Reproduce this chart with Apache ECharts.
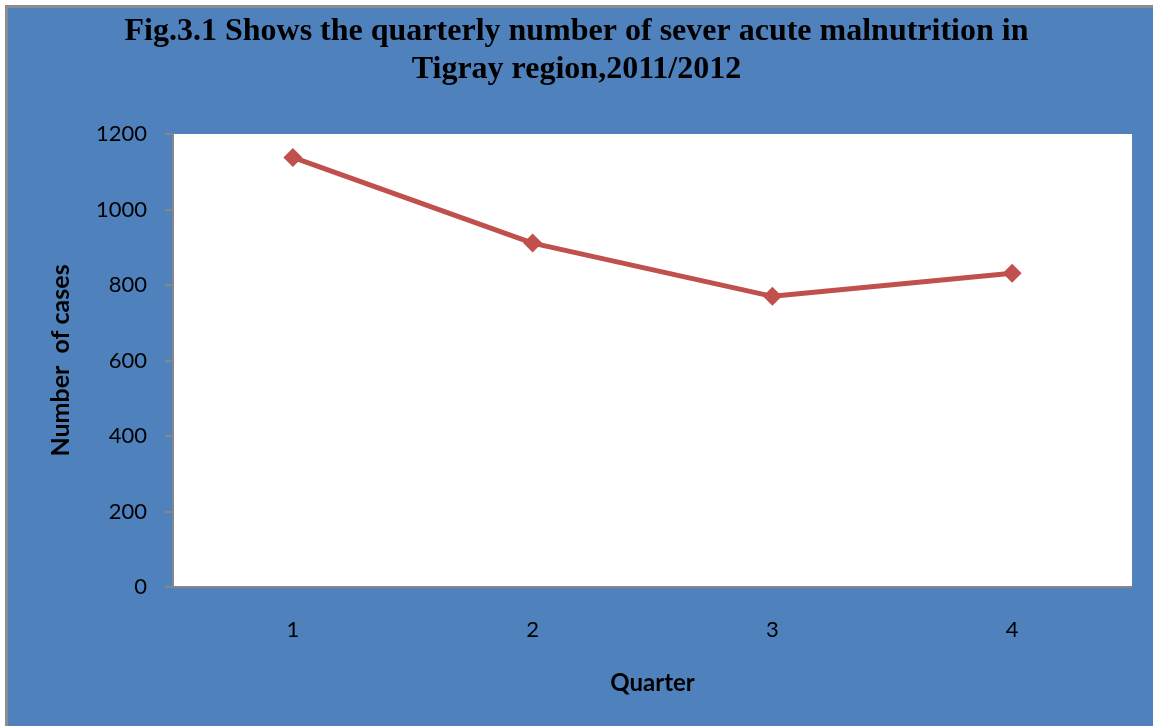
<!DOCTYPE html>
<html>
<head>
<meta charset="utf-8">
<script src="https://cdn.jsdelivr.net/npm/echarts@6/dist/echarts.min.js"></script>
<style>
  html, body { margin: 0; padding: 0; background: #ffffff; }
  #frame { position: absolute; left: 5px; top: 5px; width: 1145px; height: 718px; background: #4f81bd; border-left: 3px solid #8c8c8c; border-top: 3px solid #8c8c8c; }
  #chart { position: absolute; left: 0; top: 0; width: 1153px; height: 726px; }
</style>
</head>
<body>
<div id="frame"></div>
<div id="chart"></div>
<script>
const titleText = 'Fig.3.1 Shows the quarterly number of sever acute malnutrition in\nTigray region,2011/2012';
const quarters = ['1', '2', '3', '4'];
const cases = [1138, 911, 770, 831];
const yTicks = { min: 0, max: 1200, interval: 200 };
const xAxisName = 'Quarter';
const yAxisName = 'Number  of cases';

const chart = echarts.init(document.getElementById('chart'), null, { renderer: 'canvas' });
const labelFont = 'Lato, "Open Sans", sans-serif';
chart.setOption({
  backgroundColor: 'transparent',
  animation: false,
  title: {
    text: titleText,
    left: 'center',
    top: 8,
    textStyle: {
      fontFamily: '"Liberation Serif", "DejaVu Serif", serif',
      fontWeight: 'bold',
      fontSize: 32,
      lineHeight: 38,
      color: '#000000'
    }
  },
  grid: {
    left: 173, top: 134, right: 21, bottom: 139,
    show: true, backgroundColor: '#ffffff', borderWidth: 0
  },
  xAxis: {
    type: 'category',
    data: quarters,
    boundaryGap: true,
    name: xAxisName,
    nameLocation: 'middle',
    nameGap: 84,
    nameTextStyle: { fontFamily: labelFont, fontWeight: 'bold', fontSize: 24, color: '#000', verticalAlign: 'top' },
    axisLine: { show: true, lineStyle: { color: '#868686', width: 2 } },
    axisTick: { show: false },
    axisLabel: { margin: 32, fontFamily: labelFont, fontSize: 22, color: '#000' },
    splitLine: { show: false }
  },
  yAxis: {
    type: 'value',
    min: yTicks.min, max: yTicks.max, interval: yTicks.interval,
    name: yAxisName,
    nameLocation: 'middle',
    nameGap: 100,
    nameTextStyle: { fontFamily: labelFont, fontWeight: 'bold', fontSize: 25, color: '#000' },
    axisLine: { show: true, lineStyle: { color: '#868686', width: 2 } },
    axisTick: { show: true, inside: false, length: 8, lineStyle: { color: '#868686', width: 2 } },
    axisLabel: { margin: 26, fontFamily: labelFont, fontSize: 22, color: '#000', formatter: v => String(v) },
    splitLine: { show: false }
  },
  series: [{
    type: 'line',
    data: cases,
    symbol: 'diamond',
    symbolSize: 19,
    lineStyle: { color: '#c0504d', width: 5 },
    itemStyle: { color: '#c0504d' }
  }]
});
</script>
</body>
</html>
